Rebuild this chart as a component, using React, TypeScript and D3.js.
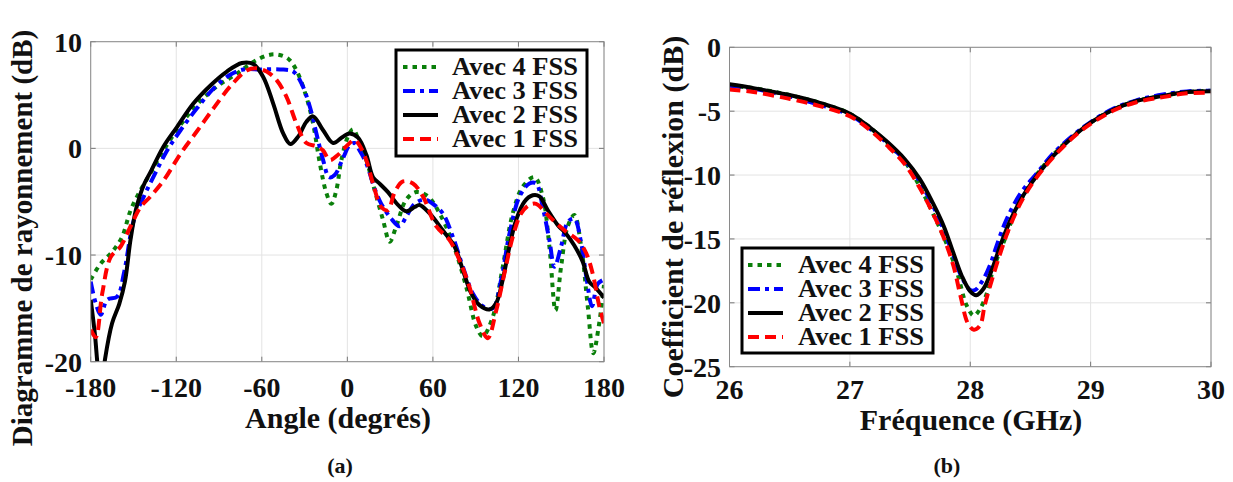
import React from 'react';
import * as d3 from 'd3';

const FONT = "'Liberation Serif','Times New Roman',Times,serif";

// ---------- Panel (a): radiation pattern ----------
const angleTicks = [-180, -120, -60, 0, 60, 120, 180];
const gainTicks = [10, 0, -10, -20];

const fss4Angle = [-180, -173, -165, -158, -152, -145, -138, -129, -117, -105.5, -91.5, -77.6, -66, -56.6, -49.6, -41.5, -35.6, -28.7, -24, -19.3, -14.7, -11.2, -7.7, -4.2, 0.4, 4, 8.6, 13.3, 19.1, 25, 29.7, 34.3, 41.3, 48.3, 56.5, 64.7, 74, 83.4, 90.4, 95, 102, 109, 116, 123, 131.2, 137, 141.7, 146, 149.9, 154.6, 159.2, 164, 168.6, 172.5, 176.3, 180];
const fss4Gain = [-12.3, -10.8, -9.7, -8.3, -5.8, -3.9, -2.3, -0.2, 2.2, 4.1, 5.8, 7.0, 8.1, 8.7, 8.8, 8.4, 7.3, 4.8, 2.3, -1.4, -4.2, -5.2, -3.9, -1.1, 1.1, 1.8, 0.5, -1.1, -3.9, -6.7, -8.75, -7.3, -4.8, -4.1, -4.5, -6.1, -8.9, -13, -16.7, -17.6, -15.8, -11.1, -6.1, -3.6, -2.7, -4.5, -9.2, -15.2, -11.1, -7.3, -6.25, -9.2, -14.8, -19.2, -16.7, -12.8];

const fss3Angle = [-180, -176.5, -173, -168.4, -161.4, -156.7, -149.7, -142.7, -134.6, -126.4, -117, -105.5, -93.9, -82.2, -72.9, -61.3, -47.3, -38, -32.2, -26.3, -21.7, -17, -12.8, -8.9, -3, 1.6, 5, 8.6, 13.3, 19.1, 23.8, 30.8, 36.7, 41.3, 47.2, 54.2, 60, 67, 74, 81, 88, 95, 102, 107.9, 113.7, 120.8, 127.7, 132.4, 137, 141.7, 145.3, 149.9, 154.6, 159.2, 164, 167.9, 171.6, 175.6, 180];
const fss3Gain = [-12.5, -14.5, -15.6, -14.2, -13.9, -11.7, -6.7, -4.5, -2.3, -0.2, 1.7, 3.75, 5.6, 6.9, 7.4, 7.4, 7.4, 7.2, 6.1, 3.9, 1.4, -1.1, -2.7, -2.5, -0.9, 0.3, 0.5, -0.2, -1.4, -3.75, -5.2, -6.6, -7.3, -6.4, -5.2, -4.8, -5.2, -6.1, -8.3, -11.1, -13.6, -14.8, -15, -12.3, -8, -4.5, -3.3, -3.3, -5.5, -8.6, -11.1, -9.2, -6.9, -6.6, -8.9, -12.3, -14.8, -12.7, -12.3];

const fss2Angle = [-180, -177, -175, -172.5, -170, -165, -160, -156, -152, -148, -143, -138, -129, -119.5, -108, -96, -84.5, -74, -66, -59, -52, -45, -40, -34.5, -28.7, -24, -17, -10, -3, 1.6, 7.5, 13.3, 18, 22.6, 28.5, 35.5, 41.3, 47.2, 50.7, 57.7, 67, 75.2, 81, 86.9, 92.7, 99.7, 104.4, 109, 113.7, 118.4, 124.2, 130, 134.7, 140.6, 147.6, 153.4, 159.2, 165, 169.7, 174.4, 180];
const fss2Gain = [-14.2, -17.5, -20.5, -22.5, -19.8, -16.4, -14.6, -12.5, -8.5, -5.6, -3.5, -2.2, 0.16, 2.0, 4.2, 5.9, 7.2, 8.0, 7.9, 6.7, 4.2, 1.4, 0.4, 1.1, 2.5, 3.0, 1.7, 0.5, 1.1, 1.4, 1.0, -0.6, -2.7, -3.3, -4.1, -5.3, -5.9, -5.5, -5.3, -6.1, -7.7, -9.2, -11.4, -13.6, -14.7, -15.1, -14.5, -12.3, -9.2, -6.7, -5.0, -4.4, -4.5, -5.8, -7.2, -8.0, -9.1, -10.6, -12.5, -13.1, -14.0];

const fss1Angle = [-180, -176.5, -171.9, -166, -159, -152, -145, -138, -128.8, -117, -105.5, -93.9, -82.2, -70.6, -63.6, -56.6, -49.6, -42.6, -35.6, -28.7, -21.7, -17, -12.4, -6.5, -0.7, 5.1, 8, 13.3, 18, 23.8, 28.5, 33.2, 39, 46, 53, 62.3, 71.7, 78.7, 85.7, 92.7, 98.5, 104.4, 110.2, 116, 121.9, 127.7, 132.4, 139.4, 146.4, 153.4, 161.6, 167.4, 172, 176.7, 180];
const fss1Gain = [-17.0, -17.7, -13.6, -10.2, -9.2, -7.3, -5.5, -4.5, -3.0, -0.5, 1.6, 3.75, 5.8, 7.3, 7.5, 7.2, 6.4, 4.8, 2.3, 0.5, 0.2, -0.2, -1.1, -0.6, 0.2, 0.8, 0.4, -1.1, -3.3, -5.5, -5.8, -4.1, -3.1, -3.3, -4.5, -7.3, -8.6, -10.5, -13, -16.4, -17.8, -15.2, -11.7, -8.3, -6.1, -5.3, -5.2, -6.1, -7.0, -7.8, -8.6, -9.8, -11.7, -14.8, -16.4];

// ---------- Panel (b): reflection coefficient ----------
const freqTicks = [26, 27, 28, 29, 30];
const s11Ticks = [0, -5, -10, -15, -20, -25];

const fss4Freq = [26, 26.2, 26.48, 26.75, 27, 27.17, 27.31, 27.46, 27.58, 27.69, 27.8, 27.89, 27.97, 28.03, 28.08, 28.14, 28.19, 28.28, 28.36, 28.44, 28.55, 28.69, 28.86, 29, 29.19, 29.38, 29.6, 29.8, 30];
const fss4S11 = [-3.0, -3.2, -3.7, -4.35, -5.2, -6.3, -7.5, -9.0, -10.9, -13.0, -15.3, -17.6, -20.2, -21.0, -20.5, -19.2, -17.4, -15.2, -13.2, -11.6, -10.0, -8.4, -6.9, -5.9, -4.85, -4.2, -3.8, -3.5, -3.4];

const fss3Freq = [26, 26.2, 26.48, 26.75, 27, 27.17, 27.31, 27.46, 27.58, 27.69, 27.78, 27.86, 27.93, 28.0, 28.04, 28.1, 28.17, 28.22, 28.3, 28.42, 28.55, 28.69, 28.86, 29, 29.19, 29.38, 29.6, 29.8, 30];
const fss3S11 = [-3.0, -3.25, -3.8, -4.5, -5.3, -6.4, -7.5, -8.9, -10.5, -12.4, -14.3, -16.3, -18.0, -19.0, -19.0, -18.3, -16.9, -15.5, -13.5, -11.4, -9.9, -8.3, -6.85, -5.85, -4.8, -4.15, -3.7, -3.45, -3.4];

const fss2Freq = [26, 26.2, 26.48, 26.75, 27, 27.17, 27.31, 27.46, 27.58, 27.69, 27.78, 27.86, 27.93, 28.0, 28.05, 28.11, 28.18, 28.25, 28.33, 28.44, 28.55, 28.69, 28.86, 29, 29.19, 29.38, 29.6, 29.8, 30];
const fss2S11 = [-2.9, -3.2, -3.7, -4.35, -5.2, -6.3, -7.4, -8.8, -10.3, -12.2, -14.0, -16.1, -17.9, -19.1, -19.4, -18.9, -17.4, -15.5, -13.6, -11.6, -10.1, -8.5, -6.95, -5.9, -4.87, -4.2, -3.8, -3.5, -3.44];

const fss1Freq = [26, 26.2, 26.48, 26.75, 27, 27.17, 27.31, 27.46, 27.58, 27.69, 27.78, 27.86, 27.92, 27.98, 28.03, 28.08, 28.12, 28.18, 28.25, 28.33, 28.44, 28.55, 28.69, 28.86, 29, 29.19, 29.38, 29.6, 29.8, 30];
const fss1S11 = [-3.3, -3.5, -4.0, -4.6, -5.4, -6.5, -7.7, -9.2, -11.0, -13.0, -14.9, -17.1, -19.5, -21.6, -22.1, -21.8, -20.2, -18.2, -16.1, -14.0, -11.8, -10.2, -8.6, -7.0, -6.0, -4.95, -4.3, -3.9, -3.6, -3.55];

const legendLabels = ['Avec 4 FSS', 'Avec 3 FSS', 'Avec 2 FSS', 'Avec 1 FSS'];

const STYLES = [
  { color: '#0a7f0a', dash: '4.5,5', width: 4 },
  { color: '#0000ff', dash: '12,5,4,5', width: 4 },
  { color: '#000000', dash: null as string | null, width: 4 },
  { color: '#ff0000', dash: '11,6', width: 4 },
];

type Series = { xs: number[]; ys: number[] };

type PanelProps = {
  id: string;
  left: number; right: number; top: number; bottom: number;
  xDomain: [number, number]; yDomain: [number, number];
  xTicks: number[]; yTicks: number[];
  series: Series[];
  legend: { x: number; y: number; w: number; h: number; sampleX: number; textX: number; baseline0: number };
  xTitle: string; xTitleX: number; xTitleY: number;
  yTitle: string; yTitleX: number; yTitleY: number; yTitleSize: number;
  caption: string; captionX: number; captionY: number;
  xLabelY: number; yLabelRight: number;
};

function Panel(p: PanelProps) {
  const x = d3.scaleLinear().domain(p.xDomain).range([p.left, p.right]);
  const y = d3.scaleLinear().domain(p.yDomain).range([p.bottom, p.top]);
  const line = d3.line<[number, number]>()
    .x(d => x(d[0]))
    .y(d => y(d[1]))
    .curve(d3.curveCatmullRom.alpha(0.5));
  const tickLen = 5;
  return (
    <g>
      <defs>
        <clipPath id={p.id}>
          <rect x={p.left} y={p.top} width={p.right - p.left} height={p.bottom - p.top} />
        </clipPath>
      </defs>
      {/* grid */}
      {p.xTicks.map((t, i) => (
        <line key={'gx' + i} x1={x(t)} x2={x(t)} y1={p.top} y2={p.bottom} stroke="#e3e3e3" strokeWidth={1} />
      ))}
      {p.yTicks.map((t, i) => (
        <line key={'gy' + i} x1={p.left} x2={p.right} y1={y(t)} y2={y(t)} stroke="#e3e3e3" strokeWidth={1} />
      ))}
      {/* ticks inward */}
      {p.xTicks.map((t, i) => (
        <g key={'tx' + i}>
          <line x1={x(t)} x2={x(t)} y1={p.bottom} y2={p.bottom - tickLen} stroke="#777" strokeWidth={1} />
          <line x1={x(t)} x2={x(t)} y1={p.top} y2={p.top + tickLen} stroke="#777" strokeWidth={1} />
        </g>
      ))}
      {p.yTicks.map((t, i) => (
        <g key={'ty' + i}>
          <line x1={p.left} x2={p.left + tickLen} y1={y(t)} y2={y(t)} stroke="#777" strokeWidth={1} />
          <line x1={p.right} x2={p.right - tickLen} y1={y(t)} y2={y(t)} stroke="#777" strokeWidth={1} />
        </g>
      ))}
      {/* curves */}
      <g clipPath={`url(#${p.id})`}>
        {p.series.map((s, i) => {
          const pts = s.xs.map((v, k) => [v, s.ys[k]] as [number, number]);
          const st = STYLES[i];
          return (
            <path key={'s' + i} d={line(pts) || ''} fill="none" stroke={st.color}
              strokeWidth={st.width} strokeDasharray={st.dash || undefined}
              strokeLinejoin="round" />
          );
        })}
      </g>
      {/* box */}
      <rect x={p.left} y={p.top} width={p.right - p.left} height={p.bottom - p.top}
        fill="none" stroke="#8a8a8a" strokeWidth={1} />
      {/* tick labels */}
      {p.xTicks.map((t, i) => (
        <text key={'lx' + i} x={x(t)} y={p.xLabelY} textAnchor="middle" fontFamily={FONT}
          fontWeight="bold" fontSize={28} fill="#111">{t}</text>
      ))}
      {p.yTicks.map((t, i) => (
        <text key={'ly' + i} x={p.yLabelRight} y={y(t) + 10} textAnchor="end" fontFamily={FONT}
          fontWeight="bold" fontSize={28} fill="#111">{t}</text>
      ))}
      {/* legend */}
      <rect x={p.legend.x} y={p.legend.y} width={p.legend.w} height={p.legend.h}
        fill="#fff" stroke="#000" strokeWidth={3} />
      {legendLabels.map((lab, i) => {
        const st = STYLES[i];
        const by = p.legend.baseline0 + i * 24;
        return (
          <g key={'lg' + i}>
            <line x1={p.legend.sampleX} x2={p.legend.sampleX + 35} y1={by - 8} y2={by - 8}
              stroke={st.color} strokeWidth={st.width} strokeDasharray={st.dash || undefined} />
            <text x={p.legend.textX} y={by} fontFamily={FONT} fontWeight="bold" fontSize={25}
              textLength={126} lengthAdjust="spacingAndGlyphs" fill="#111">{lab}</text>
          </g>
        );
      })}
      {/* axis titles */}
      <text x={p.xTitleX} y={p.xTitleY} textAnchor="middle" fontFamily={FONT} fontWeight="bold"
        fontSize={30} fill="#111">{p.xTitle}</text>
      <text transform={`translate(${p.yTitleX},${p.yTitleY}) rotate(-90)`} textAnchor="middle"
        fontFamily={FONT} fontWeight="bold" fontSize={p.yTitleSize} fill="#111">{p.yTitle}</text>
      <text x={p.captionX} y={p.captionY} textAnchor="middle" fontFamily={FONT} fontWeight="bold"
        fontSize={22} fill="#111">{p.caption}</text>
    </g>
  );
}

export default function App() {
  return (
    <svg width={1233} height={482} style={{ position: 'absolute', left: 0, top: 0, background: '#fff' }}>
      <rect x={0} y={0} width={1233} height={482} fill="#fff" />
      <Panel
        id="clipA"
        left={90.7} right={604} top={41.7} bottom={361.7}
        xDomain={[-180, 180]} yDomain={[-20, 10]}
        xTicks={angleTicks} yTicks={gainTicks}
        series={[
          { xs: fss4Angle, ys: fss4Gain },
          { xs: fss3Angle, ys: fss3Gain },
          { xs: fss2Angle, ys: fss2Gain },
          { xs: fss1Angle, ys: fss1Gain },
        ]}
        legend={{ x: 396, y: 50, w: 191, h: 106, sampleX: 403, textX: 452, baseline0: 75 }}
        xTitle="Angle (degrés)" xTitleX={338} xTitleY={428}
        yTitle="Diagramme de rayonnement (dB)" yTitleX={32} yTitleY={238} yTitleSize={29}
        caption="(a)" captionX={340} captionY={473}
        xLabelY={397} yLabelRight={82}
      />
      <Panel
        id="clipB"
        left={729.5} right={1211} top={47.3} bottom={366.7}
        xDomain={[26, 30]} yDomain={[-25, 0]}
        xTicks={freqTicks} yTicks={s11Ticks}
        series={[
          { xs: fss4Freq, ys: fss4S11 },
          { xs: fss3Freq, ys: fss3S11 },
          { xs: fss2Freq, ys: fss2S11 },
          { xs: fss1Freq, ys: fss1S11 },
        ]}
        legend={{ x: 742, y: 248, w: 191, h: 105, sampleX: 748, textX: 798, baseline0: 273 }}
        xTitle="Fréquence (GHz)" xTitleX={971} xTitleY={430}
        yTitle="Coefficient de réflexion (dB)" yTitleX={683} yTitleY={217} yTitleSize={30}
        caption="(b)" captionX={947} captionY={473}
        xLabelY={399} yLabelRight={721}
      />
    </svg>
  );
}
